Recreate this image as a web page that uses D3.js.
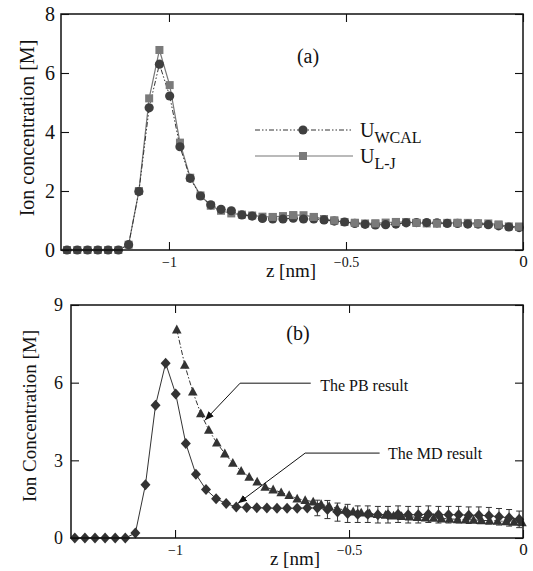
<!DOCTYPE html>
<html>
<head>
<meta charset="utf-8">
<script src="https://cdn.jsdelivr.net/npm/d3@7"></script>
<style>
  body { margin: 0; background: #fff; }
  svg text { font-family: "Liberation Serif", "Times New Roman", Times, serif; fill: #111; }
</style>
</head>
<body>
<div id="chart"></div>
<script>
// z grid (nm) shared by the MD / potential-comparison profiles
var zGrid = [-1.288, -1.259, -1.230, -1.201, -1.172, -1.143, -1.114, -1.085, -1.056, -1.027,
  -0.998, -0.969, -0.940, -0.911, -0.882, -0.853, -0.824, -0.794, -0.765, -0.736,
  -0.707, -0.678, -0.649, -0.620, -0.591, -0.562, -0.533, -0.504, -0.475, -0.446,
  -0.417, -0.388, -0.359, -0.330, -0.301, -0.272, -0.243, -0.214, -0.185, -0.156,
  -0.127, -0.098, -0.069, -0.040, -0.011];

// panel (a)
var wcalValues = [0, 0, 0, 0, 0, 0, 0.18, 1.98, 4.82, 6.30,
  5.22, 3.50, 2.43, 1.83, 1.53, 1.38, 1.33, 1.19, 1.15, 1.07,
  1.05, 1.05, 1.08, 1.05, 1.05, 1.02, 0.98, 0.95, 0.90, 0.87,
  0.85, 0.86, 0.88, 0.92, 0.93, 0.93, 0.92, 0.90, 0.90, 0.88,
  0.88, 0.86, 0.82, 0.78, 0.76];
var ljValues = [0, 0, 0, 0, 0, 0, 0.18, 2.00, 5.14, 6.78,
  5.59, 3.64, 2.45, 1.85, 1.50, 1.33, 1.24, 1.20, 1.17, 1.13,
  1.12, 1.15, 1.18, 1.18, 1.12, 1.05, 1.00, 0.95, 0.92, 0.90,
  0.90, 0.93, 0.95, 0.95, 0.92, 0.90, 0.90, 0.92, 0.92, 0.92,
  0.90, 0.90, 0.86, 0.80, 0.79];

// panel (b)
var mdValues = [0, 0, 0, 0, 0, 0, 0.19, 2.06, 5.13, 6.75,
  5.56, 3.65, 2.46, 1.87, 1.52, 1.33, 1.20, 1.18, 1.17, 1.16,
  1.15, 1.15, 1.15, 1.16, 1.16, 1.10, 1.00, 0.95, 0.92, 0.92,
  0.90, 0.90, 0.92, 0.90, 0.90, 0.92, 0.90, 0.90, 0.90, 0.88,
  0.88, 0.86, 0.82, 0.78, 0.72];
var mdErrors = [0, 0, 0, 0, 0, 0, 0, 0, 0, 0,
  0, 0, 0, 0, 0, 0, 0, 0, 0, 0,
  0, 0, 0, 0, 0.30, 0.35, 0.35, 0.35, 0.32, 0.32,
  0.32, 0.32, 0.32, 0.32, 0.32, 0.32, 0.32, 0.32, 0.32, 0.32,
  0.32, 0.32, 0.32, 0.32, 0.32];

var pbZ = [-0.995, -0.972, -0.949, -0.926, -0.903, -0.880, -0.857, -0.834, -0.810, -0.787,
  -0.764, -0.741, -0.718, -0.695, -0.672, -0.649, -0.626, -0.603, -0.580, -0.557,
  -0.534, -0.511, -0.488, -0.465, -0.441, -0.418, -0.395, -0.372, -0.349, -0.326,
  -0.303, -0.280, -0.257, -0.234, -0.211, -0.188, -0.165, -0.142, -0.119, -0.096,
  -0.073, -0.049, -0.026, -0.003];
var pbValues = [8.05, 6.68, 5.65, 4.81, 4.17, 3.68, 3.26, 2.90, 2.59, 2.36,
  2.17, 1.97, 1.87, 1.76, 1.65, 1.52, 1.46, 1.40, 1.30, 1.23,
  1.14, 1.08, 1.02, 0.98, 0.95, 0.92, 0.89, 0.86, 0.84, 0.82,
  0.80, 0.78, 0.77, 0.75, 0.74, 0.72, 0.71, 0.70, 0.68, 0.67,
  0.66, 0.64, 0.62, 0.60];

var xTicks = [-1, -0.5, 0];
var yTicksA = [0, 2, 4, 6, 8];
var yTicksB = [0, 3, 6, 9];

var SERIF = '"Liberation Serif", "Times New Roman", Times, serif';

var svg = d3.select("#chart").append("svg")
  .attr("width", 533).attr("height", 571);

svg.append("defs").append("marker")
  .attr("id", "arrow")
  .attr("viewBox", "0 0 10 10")
  .attr("refX", 10).attr("refY", 5)
  .attr("markerWidth", 9).attr("markerHeight", 9)
  .attr("markerUnits", "userSpaceOnUse")
  .attr("orient", "auto")
  .append("path").attr("d", "M0,1 L10,5 L0,9 Z").attr("fill", "#111");

function frame(g, x, y, yTicks, xFontSizes, yFont, xLabY, yLabX) {
  var x0 = x.range()[0], x1 = x.range()[1], y0 = y.range()[0], y1 = y.range()[1];
  // inward ticks on all four sides
  g.append("g").attr("transform", "translate(0," + y0 + ")")
    .call(d3.axisBottom(x).tickValues(xTicks).tickSize(-8).tickSizeOuter(0).tickFormat(d3.format("")))
    .call(function(a) {
      a.select(".domain").remove();
      a.selectAll("text").attr("y", xLabY).attr("dy", null)
        .style("font-size", function(d) { return d === 0 ? xFontSizes[1] + "px" : xFontSizes[0] + "px"; });
    });
  g.append("g").attr("transform", "translate(0," + y1 + ")")
    .call(d3.axisTop(x).tickValues(xTicks).tickSize(-8).tickSizeOuter(0).tickFormat(""))
    .call(function(a) { a.select(".domain").remove(); });
  g.append("g").attr("transform", "translate(" + x0 + ",0)")
    .call(d3.axisLeft(y).tickValues(yTicks).tickSize(-8).tickSizeOuter(0))
    .call(function(a) {
      a.select(".domain").remove();
      a.selectAll("text").attr("x", yLabX).style("font-size", yFont + "px");
    });
  g.append("g").attr("transform", "translate(" + x1 + ",0)")
    .call(d3.axisRight(y).tickValues(yTicks).tickSize(-8).tickSizeOuter(0).tickFormat(""))
    .call(function(a) { a.select(".domain").remove(); });
  g.selectAll("g").attr("font-family", null);
  g.selectAll(".tick line").attr("stroke", "#111").attr("stroke-width", 1.1);
  g.selectAll(".tick text").attr("fill", "#111");
  g.append("rect")
    .attr("x", x0).attr("y", y1).attr("width", x1 - x0).attr("height", y0 - y1)
    .attr("fill", "none").attr("stroke", "#111").attr("stroke-width", 1.5);
}

// ---------- panel (a) ----------
var xA = d3.scaleLinear().domain([-1.305, 0]).range([61, 523]);
var yA = d3.scaleLinear().domain([0, 8]).range([250, 14]);
var gA = svg.append("g");

var lineA = d3.line().x(function(d) { return xA(d[0]); }).y(function(d) { return yA(d[1]); });
var ljPts = d3.zip(zGrid, ljValues), wcalPts = d3.zip(zGrid, wcalValues);

gA.append("path").datum(ljPts).attr("d", lineA)
  .attr("fill", "none").attr("stroke", "#777").attr("stroke-width", 1.2);
gA.append("path").datum(wcalPts).attr("d", lineA)
  .attr("fill", "none").attr("stroke", "#333").attr("stroke-width", 1)
  .attr("stroke-dasharray", "5,2,1.5,2,1.5,2");
gA.selectAll(".lj").data(ljPts).enter().append("rect")
  .attr("x", function(d) { return xA(d[0]) - 4; })
  .attr("y", function(d) { return yA(d[1]) - 4; })
  .attr("width", 8).attr("height", 8).attr("fill", "#7a7a7a");
gA.selectAll(".wcal").data(wcalPts).enter().append("circle")
  .attr("cx", function(d) { return xA(d[0]); })
  .attr("cy", function(d) { return yA(d[1]); })
  .attr("r", 4.6).attr("fill", "#3f3f3f");
// tail points where L-J sits on top
gA.selectAll(".ljtop").data(ljPts.filter(function(d, i) { return i >= 19 && i % 2 === 0; })).enter().append("rect")
  .attr("x", function(d) { return xA(d[0]) - 4; })
  .attr("y", function(d) { return yA(d[1]) - 4; })
  .attr("width", 8).attr("height", 8).attr("fill", "#7a7a7a");

frame(gA, xA, yA, yTicksA, [14, 17], 20, 17, -6);

gA.append("text").attr("x", 291).attr("y", 277).attr("text-anchor", "middle")
  .style("font-size", "19px").text("z [nm]");
gA.append("text").attr("transform", "translate(34,128) rotate(-90)").attr("text-anchor", "middle")
  .style("font-size", "20px").text("Ion concentration [M]");
gA.append("text").attr("x", 308).attr("y", 63).attr("text-anchor", "middle")
  .style("font-size", "20px").text("(a)");

// legend
var legA = gA.append("g");
legA.append("line").attr("x1", 255).attr("x2", 353).attr("y1", 130).attr("y2", 130)
  .attr("stroke", "#333").attr("stroke-width", 1).attr("stroke-dasharray", "5,2,1.5,2,1.5,2");
legA.append("circle").attr("cx", 303).attr("cy", 130).attr("r", 4.6).attr("fill", "#3f3f3f");
legA.append("line").attr("x1", 255).attr("x2", 353).attr("y1", 156).attr("y2", 156)
  .attr("stroke", "#777").attr("stroke-width", 1.2);
legA.append("rect").attr("x", 299).attr("y", 152).attr("width", 8).attr("height", 8).attr("fill", "#7a7a7a");
var t1 = legA.append("text").attr("x", 360).attr("y", 137).style("font-size", "20px");
t1.append("tspan").text("U");
t1.append("tspan").attr("dy", 6).style("font-size", "16px").text("WCAL");
var t2 = legA.append("text").attr("x", 360).attr("y", 163).style("font-size", "20px");
t2.append("tspan").text("U");
t2.append("tspan").attr("dy", 6).style("font-size", "16px").text("L-J");

// ---------- panel (b) ----------
var xB = d3.scaleLinear().domain([-1.299, 0]).range([71, 523]);
var yB = d3.scaleLinear().domain([0, 9]).range([538, 305]);
var gB = svg.append("g");

var lineB = d3.line().x(function(d) { return xB(d[0]); }).y(function(d) { return yB(d[1]); });
var mdPts = d3.zip(zGrid, mdValues, mdErrors), pbPts = d3.zip(pbZ, pbValues);

// error bars
var eb = gB.selectAll(".eb").data(mdPts.filter(function(d) { return d[2] > 0; })).enter().append("g")
  .attr("stroke", "#333").attr("stroke-width", 1);
eb.append("line")
  .attr("x1", function(d) { return xB(d[0]); }).attr("x2", function(d) { return xB(d[0]); })
  .attr("y1", function(d) { return yB(d[1] - d[2]); }).attr("y2", function(d) { return yB(d[1] + d[2]); });
eb.append("line")
  .attr("x1", function(d) { return xB(d[0]) - 3; }).attr("x2", function(d) { return xB(d[0]) + 3; })
  .attr("y1", function(d) { return yB(d[1] - d[2]); }).attr("y2", function(d) { return yB(d[1] - d[2]); });
eb.append("line")
  .attr("x1", function(d) { return xB(d[0]) - 3; }).attr("x2", function(d) { return xB(d[0]) + 3; })
  .attr("y1", function(d) { return yB(d[1] + d[2]); }).attr("y2", function(d) { return yB(d[1] + d[2]); });

gB.append("path").datum(mdPts).attr("d", lineB)
  .attr("fill", "none").attr("stroke", "#333").attr("stroke-width", 1);
gB.append("path").datum(pbPts).attr("d", lineB)
  .attr("fill", "none").attr("stroke", "#333").attr("stroke-width", 1)
  .attr("stroke-dasharray", "5,2,1.5,2");

gB.selectAll(".pb").data(pbPts).enter().append("path")
  .attr("transform", function(d) { return "translate(" + xB(d[0]) + "," + yB(d[1]) + ")"; })
  .attr("d", "M0,-5 L4.8,3.8 L-4.8,3.8 Z").attr("fill", "#333");
gB.selectAll(".md").data(mdPts).enter().append("path")
  .attr("transform", function(d) { return "translate(" + xB(d[0]) + "," + yB(d[1]) + ")"; })
  .attr("d", "M0,-5.5 L5,0 L0,5.5 L-5,0 Z").attr("fill", "#333");

frame(gB, xB, yB, yTicksB, [14, 17], 18, 17, -8);

gB.append("text").attr("x", 295).attr("y", 565).attr("text-anchor", "middle")
  .style("font-size", "19px").text("z [nm]");
gB.append("text").attr("transform", "translate(36,416) rotate(-90)").attr("text-anchor", "middle")
  .style("font-size", "19px").text("Ion Concentration [M]");
gB.append("text").attr("x", 298).attr("y", 340).attr("text-anchor", "middle")
  .style("font-size", "20px").text("(b)");

// annotations: [label, text z, text value, elbow z, elbow value, line end z, tip z, tip value]
var notes = [
  ["The PB result", -0.583, 5.67, -0.813, 5.98, -0.610, -0.914, 4.55],
  ["The MD result", -0.388, 3.05, -0.626, 3.28, -0.412, -0.819, 1.34]
];
notes.forEach(function(n) {
  gB.append("path")
    .attr("d", "M" + xB(n[5]) + "," + yB(n[4]) + " L" + xB(n[3]) + "," + yB(n[4]) + " L" + xB(n[6]) + "," + yB(n[7]))
    .attr("fill", "none").attr("stroke", "#111").attr("stroke-width", 1)
    .attr("marker-end", "url(#arrow)");
  gB.append("text").attr("x", xB(n[1])).attr("y", yB(n[2]))
    .style("font-size", "16px").text(n[0]);
});

svg.selectAll("text").style("font-family", SERIF);
</script>
</body>
</html>
